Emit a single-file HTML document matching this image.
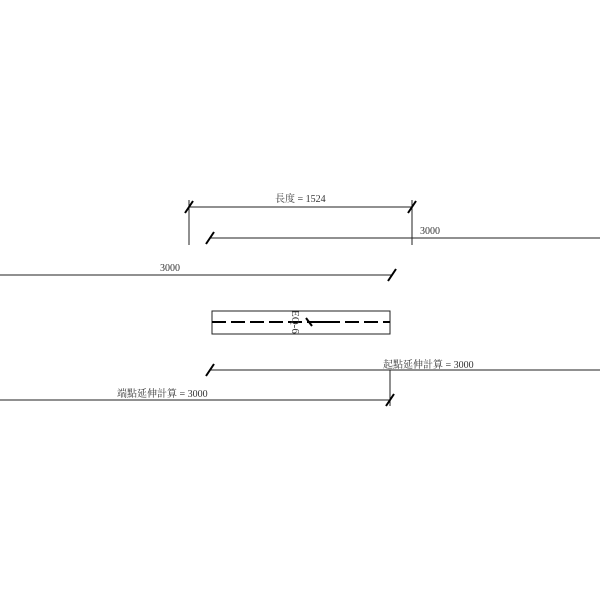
<!DOCTYPE html>
<html><head><meta charset="utf-8"><style>
html,body{margin:0;padding:0;background:#fff;}
svg{display:block;}
text{font-family:"Liberation Serif","Noto Serif CJK SC",serif;font-size:10px;fill:#333;}
</style></head><body>
<svg width="600" height="600" viewBox="0 0 600 600" xmlns="http://www.w3.org/2000/svg">
<g stroke="#222" stroke-width="1" fill="none">
  <line x1="189" y1="207" x2="412" y2="207"/>
  <line x1="189" y1="200" x2="189" y2="245"/>
  <line x1="412" y1="200" x2="412" y2="245"/>
  <line x1="210" y1="238" x2="600" y2="238"/>
  <line x1="0" y1="275" x2="392" y2="275"/>
  <line x1="210" y1="370" x2="600" y2="370"/>
  <line x1="0" y1="400" x2="390" y2="400"/>
  <line x1="390" y1="370" x2="390" y2="406"/>
  <rect x="212" y="311" width="178" height="23"/>
</g>
<g stroke="#000" stroke-width="2">
  <line x1="185" y1="213" x2="193" y2="201"/>
  <line x1="408" y1="213" x2="416" y2="201"/>
  <line x1="206" y1="244" x2="214" y2="232"/>
  <line x1="388" y1="281" x2="396" y2="269"/>
  <line x1="206" y1="376" x2="214" y2="364"/>
  <line x1="386" y1="406" x2="394" y2="394"/>
  <line x1="212" y1="322" x2="390" y2="322" stroke-dasharray="14,5"/>
  <line x1="310" y1="322" x2="335" y2="322"/>
  <line x1="306" y1="318" x2="312" y2="326"/>
</g>
<text x="275" y="202">長度 = 1524</text>
<text x="420" y="234">3000</text>
<text x="160" y="271">3000</text>
<text x="383" y="368">起點延伸計算 = 3000</text>
<text x="117" y="397">端點延伸計算 = 3000</text>
<text x="0" y="0" transform="translate(292,310) rotate(90)" style="font-size:11px">EQ-6</text>
</svg>
</body></html>
